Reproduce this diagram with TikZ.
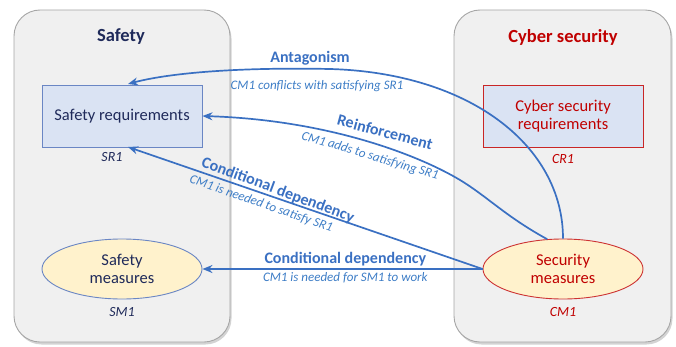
\documentclass[tikz,border=0pt]{standalone}
\usepackage{fontspec}
\setmainfont{Carlito}
\usepackage{tikz}
\usetikzlibrary{arrows.meta, positioning, shapes.geometric, shadows}

\definecolor{panelgray}{HTML}{F0F0F0}
\definecolor{paneledge}{HTML}{A6A6A6}
\definecolor{reqfill}{HTML}{DAE3F3}
\definecolor{reqedge}{HTML}{6A86C4}
\definecolor{measfill}{HTML}{FFF2CC}
\definecolor{navy}{HTML}{1F2A5A}
\definecolor{cyred}{HTML}{C00000}
\definecolor{relblue}{HTML}{3A70C2}
\definecolor{noteblue}{HTML}{3D7DC6}

\begin{document}
\begin{tikzpicture}[x=1pt,y=1pt,node distance=3pt,>={Stealth[length=10pt,width=8pt]},
        panel/.style={draw=paneledge,fill=panelgray,rounded corners=26pt,line width=0.9pt,
            drop shadow={opacity=0.35,shadow xshift=1.5pt,shadow yshift=-2.5pt}},
        title/.style={font=\fontsize{18.5}{21}\selectfont\bfseries},
        reqbox/.style={draw=reqedge,fill=reqfill,line width=0.9pt,minimum width=160pt,
            minimum height=62pt,inner sep=0pt,align=center,font=\fontsize{16.5}{18.5}\selectfont},
        measure/.style={ellipse,draw=reqedge,fill=measfill,line width=0.9pt,minimum width=160pt,
            minimum height=60pt,inner sep=0pt,align=center,font=\fontsize{16.5}{18.5}\selectfont},
        tag/.style={font=\fontsize{14}{16}\selectfont\itshape},
        rel/.style={draw=relblue,line width=1.7pt,->},
        relname/.style={text=relblue,font=\fontsize{16}{18}\selectfont\bfseries,inner sep=1pt},
        relnote/.style={text=noteblue,font=\fontsize{13}{15}\selectfont\itshape,inner sep=1pt}]

    \useasboundingbox (0,0) rectangle (676,346);

    % the two domains
    \draw[panel] (14,4) rectangle (230,336);
    \draw[panel] (454,4) rectangle (671,336);
    \node[title,text=navy] (safety) at (121,309) {Safety};
    \node[title,text=cyred] (cyber) at (563,309) {Cyber security};

    \node[reqbox,text=navy] (sreq) at (122,230) {Safety requirements};
    \node[reqbox,draw=cyred!85,text=cyred] (creq) at (563,230) {Cyber security\\requirements};
    \node[tag,text=navy] (sr1) at (112,189) {SR1};
    \node[tag,text=cyred] (cr1) [below=of creq] {CR1};

    \node[measure,text=navy] (smeas) at (122,77) {Safety\\measures};
    \node[measure,draw=cyred!80,text=cyred] (cmeas) at (563,77) {Security\\measures};
    \node[tag,text=navy] (sm1) at (122,34) {SM1};
    \node[tag,text=cyred] (cm1) at (563,34) {CM1};

    % relations
    \coordinate (antA) at (128,262);
    \coordinate (reinA) at (sreq.east);
    \coordinate (condA) at (128,199);
    \draw[rel] (cmeas.north) .. controls (563,200) and (470,273) .. (330,277)
        .. controls (230,279) and (165,272) .. (antA);
    \draw[rel] (cmeas.118) .. controls (505,130) and (488,149) .. (460,166)
        .. controls (420,190) and (330,226) .. (reinA);
    \draw[rel] (cmeas.west) -- (condA)
        node[pos=0.585,sloped,above,relname,inner sep=0pt,rotate=-1.5] {Conditional dependency}
        node[pos=0.615,sloped,below,relnote,inner sep=4pt] {CM1 is needed to satisfy SR1};
    \draw[rel] (cmeas.west) -- (smeas.east)
        node[pos=0.49,above,relname,inner sep=2pt] {Conditional dependency}
        node[pos=0.49,below,relnote,inner sep=3pt] {CM1 is needed for SM1 to work};

    \node[relname] (antname) at (310,288) {Antagonism};
    \node[relnote] (antnote) at (317,260) {CM1 conflicts with satisfying SR1};
    \node[relname,rotate=-15] (reinname) at (385,214) {Reinforcement};
    \node[relnote,rotate=-16.5] (reinnote) at (370,190) {CM1 adds to satisfying SR1};
\end{tikzpicture}
\end{document}
